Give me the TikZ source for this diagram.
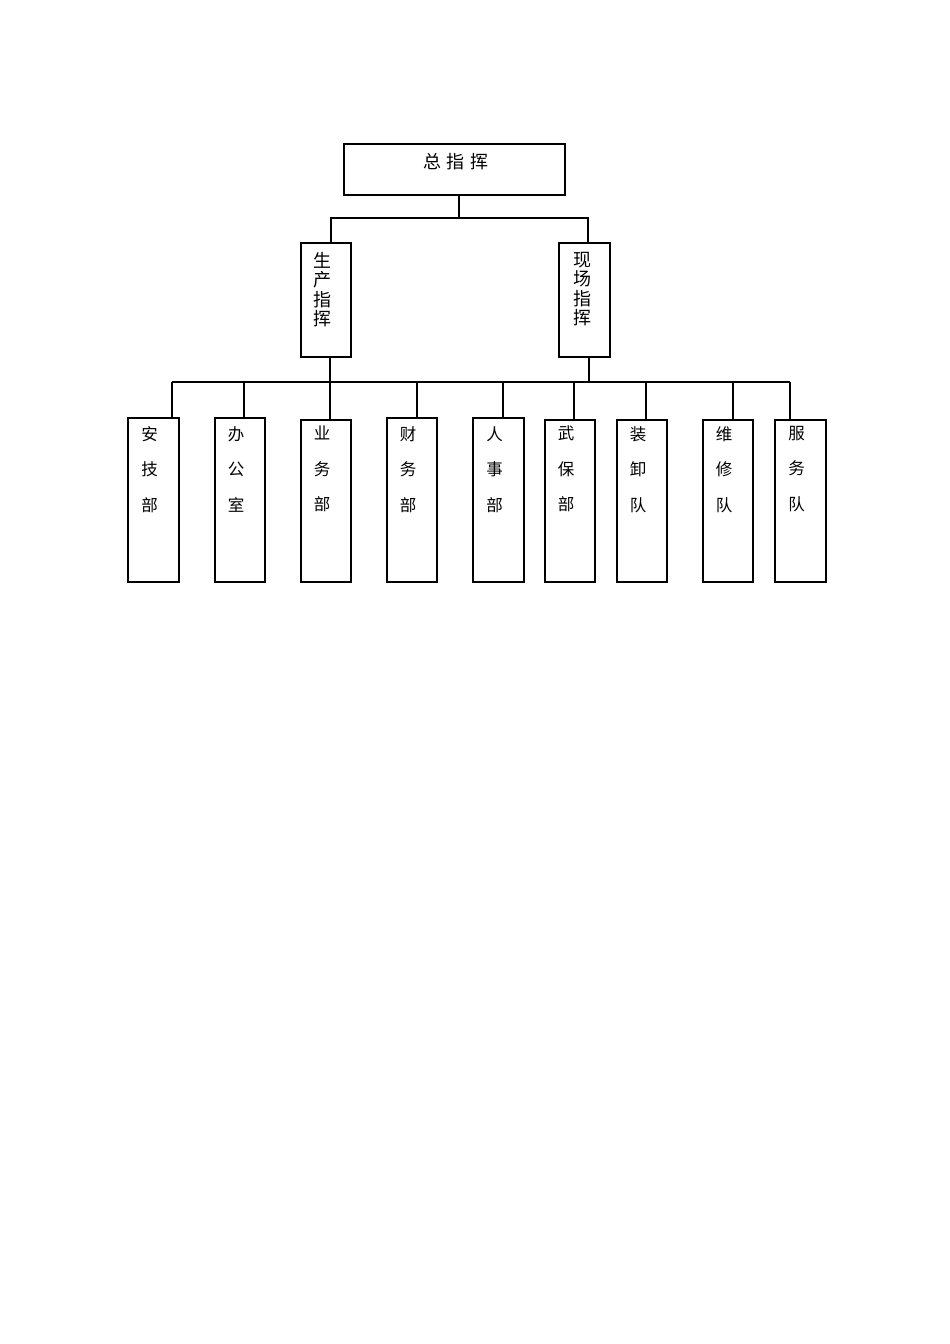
\documentclass[tikz,border=0pt]{standalone}
\usepackage{fontspec}
\newfontfamily\cjk{Noto Sans CJK SC}
\begin{document}
\begin{tikzpicture}[x=1pt,y=-1pt,
  box/.style={draw, line width=1.1pt, inner sep=0pt},
  conn/.style={line width=2pt},
  bigtxt/.style={font=\cjk\fontsize{18}{19.5}\selectfont, inner sep=0pt, align=center},
  smalltxt/.style={font=\cjk\fontsize{16.5}{35.5}\selectfont, inner sep=0pt, align=center, anchor=north}]
\useasboundingbox (0,0) rectangle (950,1344);
% top
\node[box, minimum width=221pt, minimum height=51pt] (top) at (454.5,169.5) {};
\node[bigtxt] (toptxt) at (456,162) {总\hspace{6pt}指\hspace{6pt}挥};
% middle
\node[box, minimum width=50pt, minimum height=114pt] (prod) at (326,300) {};
\node[bigtxt, anchor=north] (prodtxt) at (322,252) {生\\产\\指\\挥};
\node[box, minimum width=51pt, minimum height=114pt] (site) at (584.5,300) {};
\node[bigtxt, anchor=north] (sitetxt) at (582,252) {现\\场\\指\\挥};
% connectors top
\coordinate (j1) at (459,218);
\draw[conn] (top.south -| j1) -- (j1);
\draw[conn] (j1) -| ([xshift=5pt]prod.north);
\draw[conn] (j1) -| ([xshift=3.5pt]site.north);
% bus
\coordinate (busL) at (172,382);
\coordinate (busR) at (790,382);
\draw[conn] (busL) -- (busR);
\draw[conn] ([xshift=4pt]prod.south) -- ([xshift=4pt]prod.south |- busL);
\draw[conn] ([xshift=4.5pt]site.south) -- ([xshift=4.5pt]site.south |- busL);
% bottom boxes
\foreach \n/\xl/\xr/\yt/\cx/\t in {
  b1/128/179/418/172/{安\\技\\部},
  b2/215/265/418/244/{办\\公\\室},
  b3/301/351/420/330/{业\\务\\部},
  b4/387/437/418/417/{财\\务\\部},
  b5/473/524/418/503/{人\\事\\部},
  b6/545/595/420/574/{武\\保\\部},
  b7/617/667/420/646/{装\\卸\\队},
  b8/703/753/420/733/{维\\修\\队},
  b9/775/826/420/790/{服\\务\\队}} {
  \node[box, minimum width={(\xr-\xl)*1pt}, minimum height={(582-\yt)*1pt}] (\n) at ({(\xl+\xr)/2},{(\yt+582)/2}) {};
  \node[smalltxt] (\n txt) at ({(\xl+\xr)/2-4},426) {\t};
  \draw[conn] (\cx,382) -- (\n.north -| \cx,0);
}
\end{tikzpicture}
\end{document}
